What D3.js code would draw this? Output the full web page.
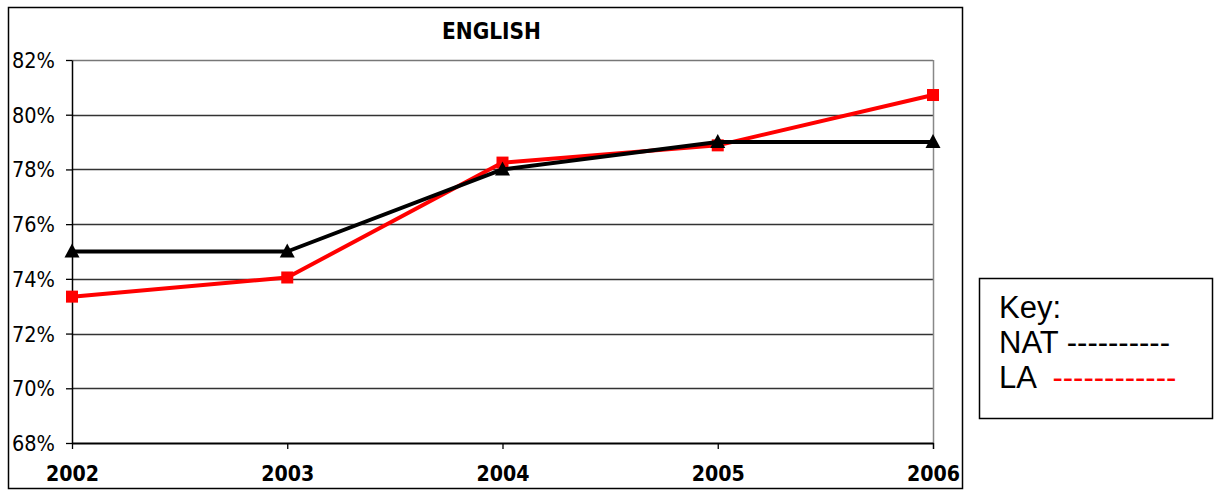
<!DOCTYPE html>
<html>
<head>
<meta charset="utf-8">
<script src="https://cdn.jsdelivr.net/npm/d3@7"></script>
<style>
  html, body { margin: 0; padding: 0; background: #fff; }
  svg { display: block; }
</style>
</head>
<body>
<svg id="chart" width="1214" height="491"></svg>
<script>
// English attainment, national vs local authority
const years = ["2002", "2003", "2004", "2005", "2006"];
const natValues = [75, 75, 78, 79, 79];
const laValues = [73.35, 74.05, 78.25, 78.88, 80.72];
const yTicks = [68, 70, 72, 74, 76, 78, 80, 82];
const chartTitle = "ENGLISH";
const keyLines = ["Key:", "NAT", "LA"];

(function draw() {
  const svg = d3.select("#chart");
  const axisFont = "DejaVu Sans, Verdana, sans-serif";

  // outer chart frame
  svg.append("rect")
    .attr("x", 8.5).attr("y", 7.5)
    .attr("width", 954).attr("height", 481)
    .attr("fill", "#fff").attr("stroke", "#000").attr("stroke-width", 1.5);

  const plotLeft = 72, plotRight = 933, plotTop = 60, plotBottom = 443;

  const x = d3.scalePoint().domain(years).range([plotLeft, plotRight]);
  const y = d3.scaleLinear().domain([68, 82]).range([plotBottom, plotTop]);

  // horizontal gridlines
  svg.append("g")
    .selectAll("line")
    .data(yTicks.slice(1))
    .join("line")
    .attr("x1", plotLeft).attr("x2", plotRight)
    .attr("y1", d => Math.round(y(d)) + 0.5).attr("y2", d => Math.round(y(d)) + 0.5)
    .attr("stroke", d => d === 82 ? "#777" : "#333")
    .attr("stroke-width", 1.3);

  // right border of the plot area
  svg.append("line")
    .attr("x1", plotRight + 0.5).attr("x2", plotRight + 0.5)
    .attr("y1", plotTop).attr("y2", plotBottom + 6)
    .attr("stroke", "#888").attr("stroke-width", 1.5);

  // y axis
  const yAxis = svg.append("g")
    .attr("transform", `translate(${plotLeft},0)`)
    .call(d3.axisLeft(y).tickValues(yTicks).tickSize(6).tickSizeOuter(0)
      .tickFormat(d => d + "%"));
  yAxis.select(".domain").attr("stroke", "#000").attr("stroke-width", 1.5);
  yAxis.selectAll(".tick line").attr("stroke", "#000").attr("stroke-width", 1.3);
  yAxis.selectAll(".tick text")
    .attr("x", -17).attr("dy", "0.36em")
    .attr("font-family", axisFont)
    .attr("font-size", 21).attr("fill", "#000")
    .attr("textLength", 43).attr("lengthAdjust", "spacingAndGlyphs");

  // x axis
  const xAxis = svg.append("g")
    .attr("transform", `translate(0,${plotBottom})`)
    .call(d3.axisBottom(x).tickSize(6).tickSizeOuter(0));
  xAxis.select(".domain").attr("stroke", "#000").attr("stroke-width", 2);
  xAxis.selectAll(".tick line").attr("stroke", "#000").attr("stroke-width", 1.3);
  xAxis.selectAll(".tick text")
    .attr("y", 38).attr("dy", 0)
    .attr("font-family", axisFont)
    .attr("font-weight", "bold")
    .attr("font-size", 21.5).attr("fill", "#000")
    .attr("textLength", 53).attr("lengthAdjust", "spacingAndGlyphs");

  // title
  svg.append("text")
    .attr("x", 491.5).attr("y", 39)
    .attr("text-anchor", "middle")
    .attr("font-family", axisFont)
    .attr("font-weight", "bold")
    .attr("font-size", 23)
    .attr("textLength", 99).attr("lengthAdjust", "spacingAndGlyphs")
    .text(chartTitle);

  const line = d3.line().x((d, i) => x(years[i])).y(d => y(d));

  // LA series (red, square markers)
  svg.append("path")
    .datum(laValues)
    .attr("d", line)
    .attr("fill", "none").attr("stroke", "#ff0000").attr("stroke-width", 4)
    .attr("stroke-linejoin", "round");
  svg.append("g").selectAll("circle")
    .data(laValues)
    .join("circle")
    .attr("cx", (d, i) => x(years[i]) + 1)
    .attr("cy", d => y(d) + 2)
    .attr("r", 3).attr("fill", "#1a1aa0");
  svg.append("g").selectAll("rect")
    .data(laValues)
    .join("rect")
    .attr("x", (d, i) => x(years[i]) - 6)
    .attr("y", d => y(d) - 6)
    .attr("width", 12).attr("height", 12)
    .attr("fill", "#ff0000");

  // NAT series (black, triangle markers)
  svg.append("path")
    .datum(natValues)
    .attr("d", line)
    .attr("fill", "none").attr("stroke", "#000").attr("stroke-width", 4)
    .attr("stroke-linejoin", "round");
  svg.append("g").selectAll("path")
    .data(natValues)
    .join("path")
    .attr("transform", (d, i) => `translate(${x(years[i])},${y(d)})`)
    .attr("d", "M0,-8 L7.5,6 L-7.5,6 Z")
    .attr("fill", "#000");

  // key box
  svg.append("rect")
    .attr("x", 979.5).attr("y", 278.5)
    .attr("width", 233).attr("height", 140)
    .attr("fill", "#fff").attr("stroke", "#000").attr("stroke-width", 1.5);

  const keyG = svg.append("g")
    .attr("font-family", "Liberation Sans, Arial, sans-serif")
    .attr("font-size", 31).attr("fill", "#000");
  keyG.append("text").attr("x", 999).attr("y", 318).text(keyLines[0]);
  keyG.append("text").attr("x", 999).attr("y", 353)
    .text(keyLines[1] + " ----------");
  const laText = keyG.append("text").attr("x", 999).attr("y", 388)
    .attr("xml:space", "preserve");
  laText.append("tspan").text(keyLines[2] + "  ");
  laText.append("tspan").attr("fill", "#ff0000").text("------------");
})();
</script>
</body>
</html>
